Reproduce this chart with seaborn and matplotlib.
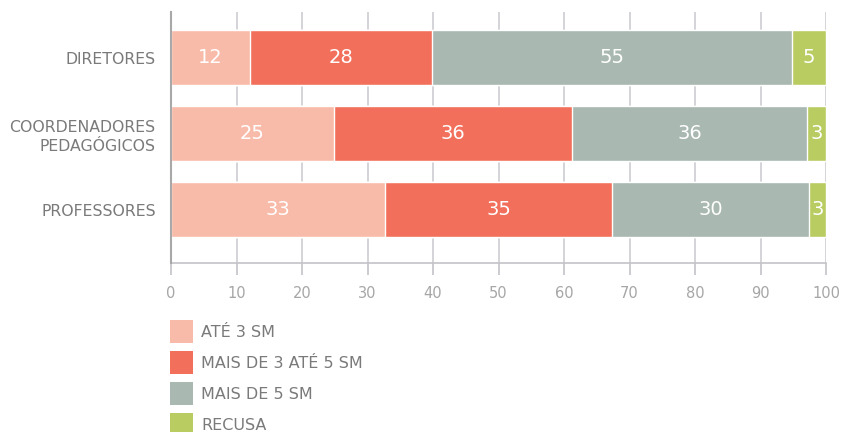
import matplotlib
matplotlib.use("Agg")
import matplotlib.pyplot as plt
from matplotlib.patches import Patch
import numpy as np
import pandas as pd
import seaborn as sns

# Income bands (share of respondents, %)
groups = ["DIRETORES", "COORDENADORES\nPEDAGÓGICOS", "PROFESSORES"]
bands = ["ATÉ 3 SM", "MAIS DE 3 ATÉ 5 SM", "MAIS DE 5 SM", "RECUSA"]
ate_3 = [12.1, 24.9, 32.6]
de_3_a_5 = [27.7, 36.3, 34.8]
mais_de_5 = [55.0, 35.9, 30.0]
recusa = [5.2, 2.9, 2.6]
colors = ["#F9BBA9", "#F2705B", "#A9B9B1", "#B8CC62"]

sns.set_theme(style="white")
plt.rcParams["font.family"] = ["DejaVu Sans"]

df = pd.DataFrame({"grupo": groups, bands[0]: ate_3, bands[1]: de_3_a_5,
                   bands[2]: mais_de_5, bands[3]: recusa})
values = df[bands].to_numpy()
cum = values.cumsum(axis=1)

fig = plt.figure(figsize=(8.41, 4.32), dpi=100)
ax = fig.add_axes([171 / 841, 1 - 263 / 432, (826 - 171) / 841, (263 - 12) / 432])

# Stacked bars: draw cumulative totals from the widest down so each band shows
for j in range(len(bands) - 1, -1, -1):
    sns.barplot(x=cum[:, j], y=df["grupo"], color=colors[j], orient="h",
                width=0.724, saturation=1, ax=ax, zorder=3)

for i in range(len(groups)):
    for j in range(len(bands)):
        center = cum[i, j] - values[i, j] / 2
        ax.text(center, i, f"{values[i, j]:.0f}", ha="center", va="center",
                color="white", fontsize=14, zorder=5)

ax.set_xlim(0, 100)
ax.set_ylim(2.704, -0.599)
ax.set_xticks(np.arange(0, 101, 10))
ax.grid(axis="x", color="#CDCDD2", linewidth=1.2, zorder=0)
ax.set_xlabel("")
ax.set_ylabel("")

for side in ["top", "right"]:
    ax.spines[side].set_visible(False)
ax.spines["left"].set_color("#A8A8A8")
ax.spines["left"].set_linewidth(1.5)
ax.spines["left"].set_zorder(6)
ax.spines["bottom"].set_color("#C4C4C8")
ax.spines["bottom"].set_linewidth(1.2)

ax.tick_params(axis="x", direction="out", length=8.5, width=1.2, color="#C4C4C8",
               labelcolor="#A6A6A6", labelsize=10.5, pad=8, bottom=True)
ax.tick_params(axis="y", length=0, labelcolor="#7A7A7A", labelsize=11.3, pad=11)
for lbl in ax.get_yticklabels():
    lbl.set_horizontalalignment("right")
    lbl.set_multialignment("right")
    lbl.set_linespacing(1.32)

handles = [Patch(facecolor=c, edgecolor="none") for c in colors]
fig.legend(handles, bands, loc="upper left",
           bbox_to_anchor=(170 / 841, 1 - 320 / 432), frameon=False,
           borderpad=0, borderaxespad=0, handlelength=1.44, handleheight=1.84,
           handletextpad=0.5, labelspacing=0.5, fontsize=11.5,
           labelcolor="#7A7A7A")

fig.savefig("out.png", dpi=100)
